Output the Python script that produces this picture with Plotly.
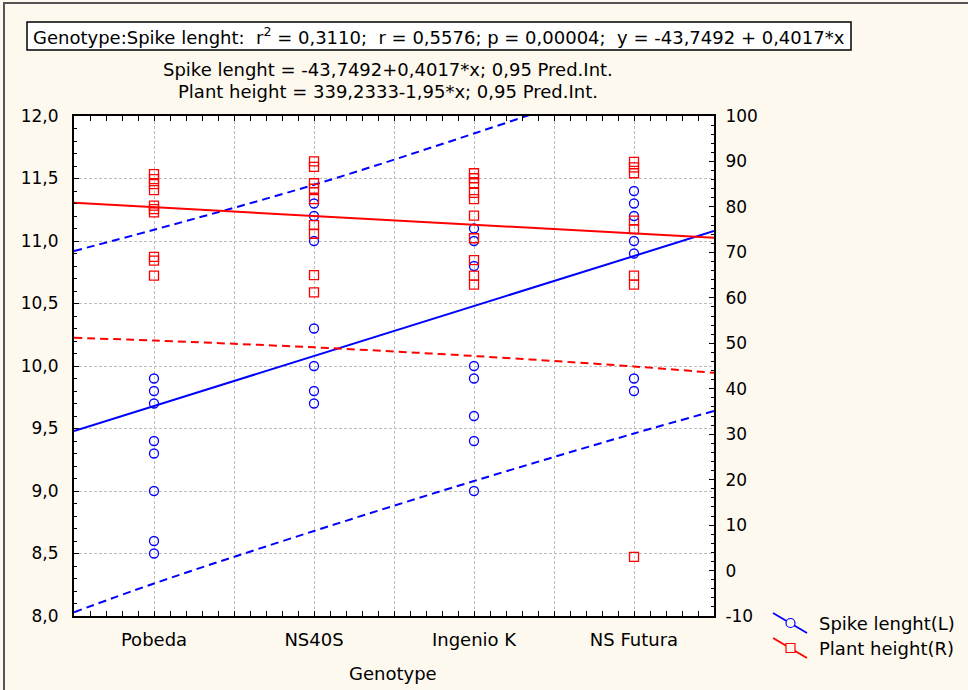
import plotly.graph_objects as go

# ---------------- data ----------------
genotypes = ["Pobeda", "NS40S", "Ingenio K", "NS Futura"]
genotype_pos = [1, 2, 3, 4]

spike_pobeda = [9.9, 9.8, 9.7, 9.4, 9.3, 9.0, 8.6, 8.5]
spike_ns40s = [11.3, 11.2, 11.0, 10.3, 10.0, 9.8, 9.7]
spike_ingenio = [11.1, 11.0, 10.8, 10.0, 9.9, 9.6, 9.4, 9.0]
spike_futura = [11.4, 11.3, 11.2, 11.0, 10.9, 9.9, 9.8]

height_pobeda = [87.2, 86.1, 85.0, 83.7, 80.3, 79.5, 78.8, 69.0, 68.2, 64.9]
height_ns40s = [90.0, 88.8, 85.2, 84.0, 81.7, 76.0, 74.1, 65.0, 61.2]
height_ingenio = [87.4, 86.3, 85.2, 83.1, 81.7, 78.1, 73.1, 68.3, 64.9, 62.9]
height_futura = [89.9, 88.7, 87.4, 77.0, 75.1, 64.9, 62.9, 3.0]

fit_x = [0.5, 4.5]
spike_fit = [9.48, 11.08]
height_fit = [80.9, 73.2]

band_x = [0.5, 1, 2, 3, 4, 4.5]
spike_pi_upper = [10.92, 11.09, 11.45, 11.86, 12.29, 12.50]
spike_pi_lower = [8.03, 8.26, 8.68, 9.08, 9.46, 9.64]
height_pi_lower = [51.2, 50.6, 49.1, 47.2, 44.9, 43.5]

left_ticks = [8.0, 8.5, 9.0, 9.5, 10.0, 10.5, 11.0, 11.5, 12.0]
right_ticks = [-10, 0, 10, 20, 30, 40, 50, 60, 70, 80, 90, 100]

title_text = ("Genotype:Spike lenght:  r<sup>2</sup> = 0,3110;  r = 0,5576; "
              "p = 0,00004;  y = -43,7492 + 0,4017*x")
sub1 = "Spike lenght = -43,7492+0,4017*x; 0,95 Pred.Int."
sub2 = "Plant height = 339,2333-1,95*x; 0,95 Pred.Int."
legend_names = ["Spike lenght(L)", "Plant height(R)"]

BLUE = "#0000FF"
RED = "#FF0000"
BG = "#FEF9EF"
FONT = "DejaVu Sans, sans-serif"
FS = 18      # text size
FT = 17      # y tick size

# ---------------- geometry helpers ----------------
L, R, T, B = 74, 714, 116, 616
W, H = 968, 690


def X(px):
    return (px - L) / (R - L)


def Y(py):
    return (B - py) / (B - T)


fig = go.Figure()

dash = "8px,5px"
fig.add_trace(go.Scatter(x=band_x, y=spike_pi_upper, mode="lines", line=dict(color=BLUE, width=2, dash=dash, shape="spline"), showlegend=False, hoverinfo="skip"))
fig.add_trace(go.Scatter(x=band_x, y=spike_pi_lower, mode="lines", line=dict(color=BLUE, width=2, dash=dash, shape="spline"), showlegend=False, hoverinfo="skip"))
fig.add_trace(go.Scatter(x=fit_x, y=spike_fit, mode="lines", line=dict(color=BLUE, width=2), showlegend=False))

spike_sets = [spike_pobeda, spike_ns40s, spike_ingenio, spike_futura]
height_sets = [height_pobeda, height_ns40s, height_ingenio, height_futura]

for pos, vals in zip(genotype_pos, spike_sets):
    fig.add_trace(go.Scatter(x=[pos] * len(vals), y=vals, mode="markers",
                             marker=dict(symbol="circle-open", color=BLUE, size=9, line=dict(width=1.3)),
                             showlegend=False))

fig.add_trace(go.Scatter(x=band_x, y=height_pi_lower, mode="lines", yaxis="y2", line=dict(color=RED, width=2, dash=dash, shape="spline"), showlegend=False, hoverinfo="skip"))
fig.add_trace(go.Scatter(x=fit_x, y=height_fit, mode="lines", yaxis="y2", line=dict(color=RED, width=2), showlegend=False))

for pos, vals in zip(genotype_pos, height_sets):
    fig.add_trace(go.Scatter(x=[pos] * len(vals), y=vals, mode="markers", yaxis="y2",
                             marker=dict(symbol="square-open", color=RED, size=9, line=dict(width=1.3)),
                             showlegend=False))

x_tickvals = []
x_ticktext = []
for i, g in zip(genotype_pos, genotypes):
    x_tickvals.append(i)
    x_ticktext.append(g)
    if i < 4:
        x_tickvals.append(i + 0.5)
        x_ticktext.append("")

grid = dict(showgrid=True, gridcolor="#BDBDBD", gridwidth=1, griddash="3px,2px")

fig.update_layout(
    width=W, height=H,
    margin=dict(l=L, r=W - R, t=T, b=H - B),
    paper_bgcolor=BG,
    plot_bgcolor="#FFFFFF",
    showlegend=False,
    font=dict(family=FONT, size=FS, color="#000000"),
    xaxis=dict(range=[0.5, 4.5], tickvals=x_tickvals, ticktext=x_ticktext,
               showline=True, linecolor="#000000", linewidth=2, mirror="allticks",
               ticks="inside", ticklen=5, tickcolor="#000000", ticklabelstandoff=6,
               minor=dict(ticks="inside", dtick=0.1, tick0=0.5, ticklen=3, tickcolor="#000000", showgrid=False),
               zeroline=False, tickfont=dict(size=FS), **grid),
    yaxis=dict(range=[8, 12], tickvals=left_ticks, ticktext=[f"{v:.1f}".replace(".", ",") for v in left_ticks],
               showline=True, linecolor="#000000", linewidth=2,
               ticks="inside", ticklen=5, tickcolor="#000000", ticklabelstandoff=10,
               minor=dict(ticks="inside", dtick=0.1, tick0=8, ticklen=3, tickcolor="#000000", showgrid=False),
               zeroline=False, tickfont=dict(size=FT), **grid),
    yaxis2=dict(range=[-10, 100], tickvals=right_ticks, ticktext=[str(v) for v in right_ticks],
                overlaying="y", side="right", showgrid=False, zeroline=False,
                showline=True, linecolor="#000000", linewidth=2,
                ticks="inside", ticklen=5, tickcolor="#000000", ticklabelstandoff=6,
                minor=dict(ticks="inside", dtick=2, tick0=-10, ticklen=3, tickcolor="#000000"),
                tickfont=dict(size=FT)),
)

shapes = []
annotations = []

shapes.append(dict(type="rect", xref="paper", yref="paper", x0=X(4), x1=X(990), y0=Y(3), y1=Y(710),
                   line=dict(color="#555555", width=2), fillcolor="rgba(0,0,0,0)", layer="above"))
shapes.append(dict(type="rect", xref="paper", yref="paper", x0=X(27), x1=X(851), y0=Y(50), y1=Y(22),
                   line=dict(color="#000000", width=1.5), fillcolor="#FFFFFF", layer="below"))
annotations.append(dict(xref="paper", yref="paper", x=X(439), y=Y(36), text=title_text, showarrow=False,
                        font=dict(size=FS), xanchor="center", yanchor="middle"))
annotations.append(dict(xref="paper", yref="paper", x=X(388), y=Y(70), text=sub1, showarrow=False,
                        font=dict(size=FS), xanchor="center", yanchor="middle"))
annotations.append(dict(xref="paper", yref="paper", x=X(388), y=Y(92), text=sub2, showarrow=False,
                        font=dict(size=FS), xanchor="center", yanchor="middle"))
annotations.append(dict(xref="paper", yref="paper", x=X(393), y=Y(673), text="Genotype", showarrow=False,
                        font=dict(size=FS), xanchor="center", yanchor="middle"))

for k, (col, name, cy) in enumerate([(BLUE, legend_names[0], 623), (RED, legend_names[1], 648)]):
    shapes.append(dict(type="line", xref="paper", yref="paper", x0=X(773), x1=X(807), y0=Y(cy - 10), y1=Y(cy + 10),
                       line=dict(color=col, width=1.8), layer="above"))
    kind = "circle" if k == 0 else "rect"
    shapes.append(dict(type=kind, xref="paper", yref="paper", x0=X(786), x1=X(795), y0=Y(cy - 4.5), y1=Y(cy + 4.5),
                       line=dict(color=col, width=1.2), fillcolor=BG, layer="above"))
    annotations.append(dict(xref="paper", yref="paper", x=X(817), y=Y(cy), text=name, showarrow=False,
                            font=dict(size=FS), xanchor="left", yanchor="middle"))

fig.update_layout(shapes=shapes, annotations=annotations)

fig.write_html("out.html", config={"displayModeBar": False},
               post_script="document.body.style.margin='0';document.body.style.overflow='hidden';")
